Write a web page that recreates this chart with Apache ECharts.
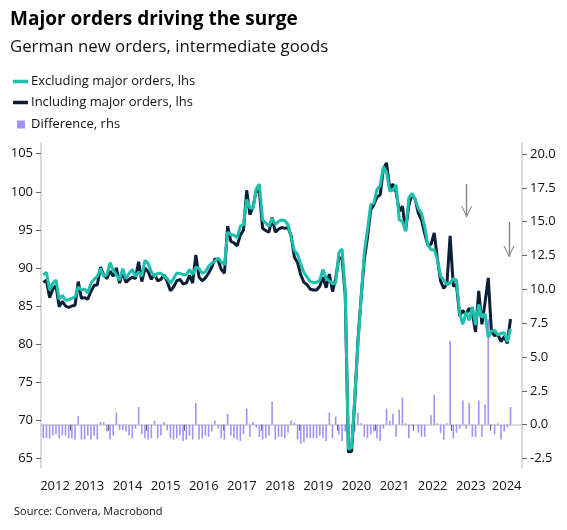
<!DOCTYPE html>
<html>
<head>
<meta charset="utf-8">
<script src="https://cdn.jsdelivr.net/npm/echarts@6/dist/echarts.min.js"></script>
<style>
html,body{margin:0;padding:0;background:#fff;}
#chart{width:567px;height:530px;}
</style>
</head>
<body>
<div id="chart"></div>
<script>
// Monthly observations start April 2012
const startYear = 2012;
const startMonth = 4;

// Excluding major orders (lhs)
const excluding = [
  89.1, 89.4, 87.1, 88.0, 88.4, 85.9, 86.4, 85.8, 85.8, 86.0, 86.2, 87.5,
  87.1, 87.2, 86.7, 88.0, 88.5, 88.9, 89.9, 88.9, 89.1, 90.7, 89.7, 89.1,
  88.4, 89.9, 88.6, 89.3, 89.8, 88.9, 89.5, 88.9, 91.0, 90.6, 89.5, 88.9,
  89.3, 89.3, 88.9, 88.6, 88.0, 88.6, 89.3, 89.3, 89.1, 89.1, 89.8, 89.1,
  90.1, 89.9, 89.3, 89.5, 90.2, 90.6, 90.9, 91.3, 90.8, 90.4, 94.7, 94.4,
  94.3, 94.0, 95.5, 95.7, 99.0, 97.9, 97.8, 100.4, 101.0, 96.3, 95.9, 95.5,
  96.5, 95.7, 96.1, 96.3, 96.2, 95.7, 94.0, 92.3, 91.8, 90.5, 89.4, 88.8,
  88.2, 88.1, 88.1, 88.4, 89.8, 88.6, 88.3, 87.9, 88.0, 92.0, 92.5, 87.0,
  66.2, 66.4, 73.0, 80.0, 86.0, 92.0, 95.0, 98.3, 98.5, 100.3, 100.8, 103.3,
  102.6, 100.1, 100.2, 100.9, 96.3, 96.1, 94.8, 99.2, 99.8, 99.0, 97.8, 97.2,
  95.4, 93.0, 92.4, 92.4, 91.1, 88.9, 88.4, 87.8, 88.0, 88.6, 88.4, 84.0,
  82.6, 84.2, 83.1, 84.9, 82.5, 85.2, 83.5, 84.0, 80.9, 81.7, 81.8, 81.2,
  81.4, 81.5, 80.3, 82.0
];

// Including major orders (lhs)
const including = [
  88.1, 88.4, 86.1, 87.2, 87.7, 84.9, 85.6, 85.0, 84.8, 85.0, 85.1, 88.2,
  86.0, 86.1, 85.9, 86.9, 87.7, 87.8, 90.1, 89.1, 88.6, 89.6, 88.9, 90.0,
  88.0, 89.5, 88.1, 88.5, 88.8, 88.6, 90.8, 88.2, 90.0, 89.5, 88.5, 89.2,
  88.3, 88.5, 89.1, 88.2, 87.0, 87.5, 88.3, 88.5, 87.9, 88.0, 89.0, 88.0,
  91.7, 88.8, 88.3, 88.7, 89.3, 90.1, 91.2, 91.0, 89.8, 89.3, 95.5, 93.5,
  93.3, 92.9, 94.3, 95.0, 100.2, 97.0, 98.0, 100.2, 100.0, 95.2, 94.9, 94.7,
  96.6, 94.7, 95.1, 95.3, 95.2, 95.3, 94.2, 91.4, 90.7, 89.1, 88.1, 87.8,
  87.2, 87.1, 87.1, 87.6, 88.8, 87.4, 89.2, 86.9, 88.6, 91.3, 91.3, 86.5,
  65.8, 65.9, 72.5, 80.5, 86.1, 91.1, 94.0, 97.6, 98.3, 99.3, 99.6, 103.0,
  103.8, 100.4, 101.0, 100.0, 97.4, 98.1, 94.9, 98.2, 99.7, 99.0, 97.2, 96.3,
  94.5, 93.0, 93.1, 94.6, 91.2, 88.3, 87.3, 87.9, 94.2, 87.6, 87.8, 83.7,
  84.4, 83.9, 84.7, 84.0, 81.6, 87.0, 82.6, 85.5, 88.7, 81.6, 81.1, 81.3,
  80.3, 81.0, 80.1, 83.3
];

// Difference (rhs)
const difference = [
  -1.0, -1.0, -1.0, -0.8, -0.7, -1.0, -0.8, -0.8, -1.0, -1.0, -1.1, 0.65,
  -1.1, -1.1, -0.8, -1.1, -0.8, -1.1, 0.2, 0.2, -0.5, -1.1, -0.8, 0.9,
  -0.4, -0.4, -0.5, -0.8, -1.0, -0.3, 1.3, -0.7, -1.0, -1.1, -1.0, 0.3,
  -1.0, -0.8, 0.2, -0.4, -1.0, -1.1, -1.0, -0.8, -1.2, -1.1, -0.8, -1.1,
  1.6, -1.1, -1.0, -0.8, -0.9, -0.5, 0.3, -0.3, -1.0, -1.1, 0.8, -0.8,
  -1.0, -1.1, -1.2, -0.7, 1.2, -0.9, 0.2, -0.2, -0.9, -1.1, -1.0, -0.8,
  1.7, -1.1, -0.9, -0.9, -1.0, -0.6, 0.3, 0.15, -1.1, -1.4, -1.3, -1.0,
  -1.0, -1.0, -1.0, -0.8, -1.0, -1.2, 0.9, -1.0, 0.6, -0.7, -1.2, -0.5,
  -0.4, -0.6, -0.5, 0.9, 0.1, -0.9, -1.0, -0.7, -0.5, -1.0, -1.2, -0.3,
  1.2, 0.3, 0.8, -0.9, 1.1, 2.0, 0.1, -1.0, -0.1, 0.0, -0.6, -0.9,
  -0.9, 0.0, 0.7, 2.2, 0.1, -0.6, -1.1, 0.1, 6.2, -1.0, -0.6, -0.3,
  1.8, -0.3, 1.6, -0.9, -0.9, 1.8, -0.9, 1.5, 7.8, -0.1, -0.7, 0.1,
  -1.1, -0.5, -0.2, 1.3
];

// Axis ticks and labels
const years = [2012, 2013, 2014, 2015, 2016, 2017, 2018, 2019, 2020, 2021, 2022, 2023, 2024];
const yearTicks = [2013, 2014, 2015, 2016, 2017, 2018, 2019, 2020, 2021, 2022, 2023, 2024];
const yearLabelPos = [2012.6, 2013.5, 2014.5, 2015.5, 2016.5, 2017.5, 2018.5, 2019.5, 2020.5, 2021.5, 2022.5, 2023.5, 2024.44];
const leftTicks = [65, 70, 75, 80, 85, 90, 95, 100, 105];
const rightTicks = [-2.5, 0, 2.5, 5, 7.5, 10, 12.5, 15, 17.5, 20];

// Annotation arrows: [time, top value, tip value] on lhs
const arrows = [
  [2023.393, 101.05, 96.67],
  [2024.502, 96.05, 91.45]
];

// Month positions (decimal years, mid-month)
const monthTimes = excluding.map((_, i) => {
  const m = startMonth - 1 + i;
  return startYear + Math.floor(m / 12) + ((m % 12) + 0.5) / 12;
});
const pair = arr => arr.map((v, i) => [monthTimes[i], v]);

const FONT = 'Open Sans';
const TEAL = '#1dbfad';
const NAVY = '#0c1e38';
const LAV = '#9f93f3';

const chart = echarts.init(document.getElementById('chart'), null, {renderer: 'canvas'});
chart.setOption({
  animation: false,
  backgroundColor: '#ffffff',
  textStyle: {fontFamily: FONT},
  title: [
    {text: 'Major orders driving the surge', left: 5, top: 5,
     textStyle: {fontFamily: FONT, fontSize: 19, fontWeight: 'bold', color: '#000'}},
    {text: 'German new orders, intermediate goods', left: 5, top: 34,
     textStyle: {fontFamily: FONT, fontSize: 16.8, fontWeight: 'normal', color: '#111'}},
    {text: 'Source: Convera, Macrobond', left: 9, top: 501,
     textStyle: {fontFamily: FONT, fontSize: 11, fontWeight: 'normal', color: '#111'}}
  ],
  legend: [
    {data: ['Excluding major orders, lhs', 'Including major orders, lhs'],
     orient: 'vertical', left: 8, top: 70, itemWidth: 15, itemHeight: 3.5, itemGap: 8, icon: 'rect',
     textStyle: {fontFamily: FONT, fontSize: 13, color: '#111', padding: [0, 0, 0, -2]}},
    {data: ['Difference, rhs'], orient: 'vertical', left: 12, top: 113,
     itemWidth: 8, itemHeight: 8, icon: 'rect',
     textStyle: {fontFamily: FONT, fontSize: 13, color: '#111', padding: [0, 0, 0, 1]}}
  ],
  grid: {left: 41, right: 45, top: 143, bottom: 62, containLabel: false},
  xAxis: {
    type: 'value', min: 2012.232, max: 2024.843,
    axisLine: {show: true, lineStyle: {color: '#cfcfcf', width: 1.5}},
    splitLine: {show: false},
    axisTick: {show: true, customValues: yearTicks, length: 6, lineStyle: {color: '#666'}},
    axisLabel: {customValues: yearLabelPos, margin: 12, fontFamily: FONT, fontSize: 13, color: '#111',
      formatter: v => String(years.find(y => y === Math.floor(v)))}
  },
  yAxis: [
    {type: 'value', position: 'left', min: 63.72, max: 106.41,
     axisLine: {show: true, lineStyle: {color: '#cfcfcf', width: 1.5}},
     splitLine: {show: false},
     axisTick: {show: true, customValues: leftTicks, length: 5, lineStyle: {color: '#666'}},
     axisLabel: {customValues: leftTicks, margin: 8, fontFamily: FONT, fontSize: 13, color: '#111'}},
    {type: 'value', position: 'right', min: -3.2, max: 20.81,
     axisLine: {show: true, lineStyle: {color: '#cfcfcf', width: 1.5}},
     splitLine: {show: false},
     axisTick: {show: true, customValues: rightTicks, length: 5, lineStyle: {color: '#666'}},
     axisLabel: {customValues: rightTicks, margin: 8, fontFamily: FONT, fontSize: 13, color: '#111',
       formatter: v => v.toFixed(1)}}
  ],
  series: [
    {name: 'Difference, rhs', type: 'bar', yAxisIndex: 1, data: pair(difference),
     barWidth: 1.6, itemStyle: {color: LAV}, z: 1},
    {name: 'Including major orders, lhs', type: 'line', yAxisIndex: 0, data: pair(including),
     symbol: 'none', lineStyle: {color: NAVY, width: 3}, itemStyle: {color: NAVY}, z: 2},
    {name: 'Excluding major orders, lhs', type: 'line', yAxisIndex: 0, data: pair(excluding),
     symbol: 'none', lineStyle: {color: TEAL, width: 3}, itemStyle: {color: TEAL}, z: 3,
     markLine: {silent: true, symbol: ['none', 'none'], label: {show: false},
       lineStyle: {color: '#7d7d7d', width: 1.3, type: 'solid'},
       data: arrows.map(a => [{coord: [a[0], a[1]]}, {coord: [a[0], a[2]]}])},
     markPoint: {silent: true, label: {show: false},
       symbol: 'path://M0,0 L5,9 L10,0 L9,0 L5,7.4 L1,0 Z', symbolSize: [11, 11],
       symbolOffset: [0, '-50%'], itemStyle: {color: '#7d7d7d'},
       data: arrows.map(a => ({coord: [a[0], a[2]]}))}}
  ]
});
</script>
</body>
</html>
